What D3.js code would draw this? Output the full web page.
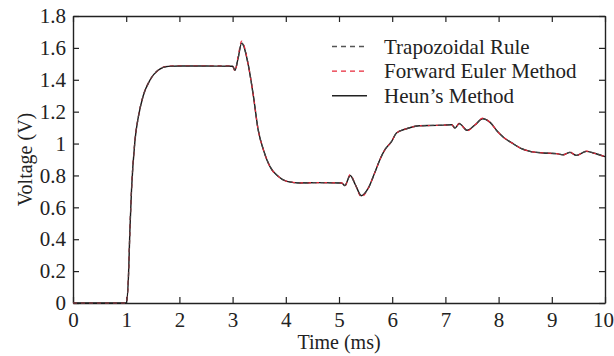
<!DOCTYPE html>
<html>
<head>
<meta charset="utf-8">
<script src="https://cdn.jsdelivr.net/npm/d3@7"></script>
<style>
  body { margin: 0; background: #fff; }
</style>
</head>
<body>
<div id="chart"></div>
<script>
// data
var timeMs = [0, 1.0, 1.04, 1.07, 1.10, 1.165, 1.23, 1.32, 1.45, 1.60, 1.79, 2.0, 2.5, 3.0, 3.045, 3.10, 3.17, 3.30, 3.39, 3.48, 3.58, 3.70, 3.86, 4.02, 4.27, 4.6, 5.05, 5.11, 5.21, 5.31, 5.42, 5.55, 5.67, 5.77, 5.86, 5.99, 6.08, 6.27, 6.52, 6.84, 7.12, 7.18, 7.26, 7.41, 7.56, 7.70, 7.84, 7.98, 8.09, 8.25, 8.43, 8.59, 8.84, 9.09, 9.21, 9.34, 9.46, 9.65, 9.78, 10.0];

var trapezoidal = [0, 0, 0.146, 0.46, 0.71, 1.02, 1.17, 1.30, 1.40, 1.46, 1.484, 1.486, 1.486, 1.485, 1.46, 1.53, 1.63, 1.484, 1.30, 1.087, 0.96, 0.857, 0.794, 0.763, 0.753, 0.755, 0.753, 0.736, 0.80, 0.74, 0.673, 0.72, 0.815, 0.90, 0.96, 1.014, 1.066, 1.093, 1.112, 1.114, 1.118, 1.098, 1.125, 1.083, 1.118, 1.156, 1.133, 1.075, 1.04, 1.004, 0.968, 0.951, 0.941, 0.937, 0.930, 0.945, 0.926, 0.951, 0.941, 0.918];

var forwardEuler = [0, 0, 0.15, 0.46, 0.71, 1.02, 1.17, 1.30, 1.40, 1.46, 1.486, 1.488, 1.488, 1.487, 1.455, 1.54, 1.642, 1.484, 1.30, 1.087, 0.96, 0.857, 0.794, 0.763, 0.753, 0.755, 0.753, 0.733, 0.806, 0.74, 0.666, 0.72, 0.815, 0.90, 0.96, 1.014, 1.066, 1.093, 1.112, 1.114, 1.118, 1.095, 1.128, 1.080, 1.118, 1.16, 1.133, 1.075, 1.04, 1.004, 0.968, 0.951, 0.941, 0.937, 0.928, 0.947, 0.924, 0.953, 0.941, 0.918];

var heun = [0, 0, 0.146, 0.46, 0.71, 1.02, 1.17, 1.30, 1.40, 1.46, 1.484, 1.486, 1.486, 1.485, 1.46, 1.53, 1.63, 1.484, 1.30, 1.087, 0.96, 0.857, 0.794, 0.763, 0.753, 0.755, 0.753, 0.736, 0.80, 0.74, 0.673, 0.72, 0.815, 0.90, 0.96, 1.014, 1.066, 1.093, 1.112, 1.114, 1.118, 1.098, 1.125, 1.083, 1.118, 1.156, 1.133, 1.075, 1.04, 1.004, 0.968, 0.951, 0.941, 0.937, 0.930, 0.945, 0.926, 0.951, 0.941, 0.918];

var xTicks = [0, 1, 2, 3, 4, 5, 6, 7, 8, 9, 10];
var yTicks = [0, 0.2, 0.4, 0.6, 0.8, 1, 1.2, 1.4, 1.6, 1.8];

var seriesNames = ["Trapozoidal Rule", "Forward Euler Method", "Heun\u2019s Method"];

var serifFont = "Liberation Serif";

// svg dimensions
var svgWidth = 614;
var svgHeight = 356;

var margin = { top: 16, right: 9, bottom: 53, left: 73 };

var width = svgWidth - margin.left - margin.right;
var height = svgHeight - margin.top - margin.bottom;

var svg = d3.select("#chart")
  .append("svg")
  .attr("width", svgWidth)
  .attr("height", svgHeight)
  .attr("font-family", serifFont);

var chartGroup = svg.append("g")
  .attr("transform", `translate(${margin.left}, ${margin.top})`);

var xScale = d3.scaleLinear().domain([0, 10]).range([0, width]);
var yScale = d3.scaleLinear().domain([0, 1.8]).range([height, 0]);

var fmt = d => d3.format("~g")(d);

// axes, ticks pointing inward
var bottomAxis = d3.axisBottom(xScale).tickValues(xTicks).tickFormat(fmt)
  .tickSizeInner(-6).tickSizeOuter(0).tickPadding(9);
var leftAxis = d3.axisLeft(yScale).tickValues(yTicks).tickFormat(fmt)
  .tickSizeInner(-6).tickSizeOuter(0).tickPadding(7);
var topAxis = d3.axisTop(xScale).tickValues(xTicks).tickFormat("")
  .tickSizeInner(-6).tickSizeOuter(0);
var rightAxis = d3.axisRight(yScale).tickValues(yTicks).tickFormat("")
  .tickSizeInner(-6).tickSizeOuter(0);

function styleAxis(g) {
  g.attr("font-family", serifFont).attr("font-size", 21);
  g.select(".domain").attr("stroke", "#222").attr("stroke-width", 1.4);
  g.selectAll(".tick line").attr("stroke", "#222").attr("stroke-width", 1.2);
  g.selectAll("text").attr("fill", "#222");
}

var xAxis = chartGroup.append("g")
  .attr("transform", `translate(0, ${height})`)
  .call(bottomAxis)
  .call(styleAxis);

// keep the last label inside the window
xAxis.selectAll(".tick text")
  .filter(d => d === 10)
  .attr("dx", -2);

chartGroup.append("g")
  .call(leftAxis)
  .call(styleAxis);

chartGroup.append("g")
  .call(topAxis)
  .call(styleAxis);

chartGroup.append("g")
  .attr("transform", `translate(${width}, 0)`)
  .call(rightAxis)
  .call(styleAxis);

// lines
var line = d3.line()
  .x(d => xScale(d.t))
  .y(d => yScale(d.v))
  .curve(d3.curveMonotoneX);

function toPoints(values) {
  return timeMs.map((t, i) => ({ t: t, v: values[i] }));
}

var series = [
  { name: seriesNames[2], values: heun, color: "#1a1a1a", dash: null, width: 1.4 },
  { name: seriesNames[1], values: forwardEuler, color: "#e8283a", dash: "4,4", width: 1.2 },
  { name: seriesNames[0], values: trapezoidal, color: "#444", dash: "4,4", width: 1.2 }
];

chartGroup.selectAll(".series")
  .data(series)
  .enter()
  .append("path")
  .attr("class", "series")
  .attr("fill", "none")
  .attr("stroke", d => d.color)
  .attr("stroke-width", d => d.width)
  .attr("stroke-dasharray", d => d.dash)
  .attr("d", d => line(toPoints(d.values)));

// legend
var legendItems = [
  { name: seriesNames[0], color: "#555", dash: "5,4", width: 1.3 },
  { name: seriesNames[1], color: "#e8283a", dash: "5,4", width: 1.3 },
  { name: seriesNames[2], color: "#222", dash: null, width: 1.5 }
];

var legend = svg.append("g")
  .attr("transform", "translate(332, 46.5)");

var legendRows = legend.selectAll("g")
  .data(legendItems)
  .enter()
  .append("g")
  .attr("transform", (d, i) => `translate(0, ${i * 24.6})`);

legendRows.append("line")
  .attr("x1", 0)
  .attr("x2", 35)
  .attr("stroke", d => d.color)
  .attr("stroke-width", d => d.width)
  .attr("stroke-dasharray", d => d.dash);

legendRows.append("text")
  .attr("x", 52)
  .attr("y", 7)
  .attr("font-size", 21)
  .attr("fill", "#222")
  .text(d => d.name);

// axis labels
svg.append("text")
  .attr("x", margin.left + width / 2)
  .attr("y", 349)
  .attr("text-anchor", "middle")
  .attr("font-size", 20)
  .attr("fill", "#222")
  .text("Time (ms)");

svg.append("text")
  .attr("transform", `translate(32, ${margin.top + height / 2}) rotate(-90)`)
  .attr("text-anchor", "middle")
  .attr("font-size", 20)
  .attr("fill", "#222")
  .text("Voltage (V)");
</script>
</body>
</html>
